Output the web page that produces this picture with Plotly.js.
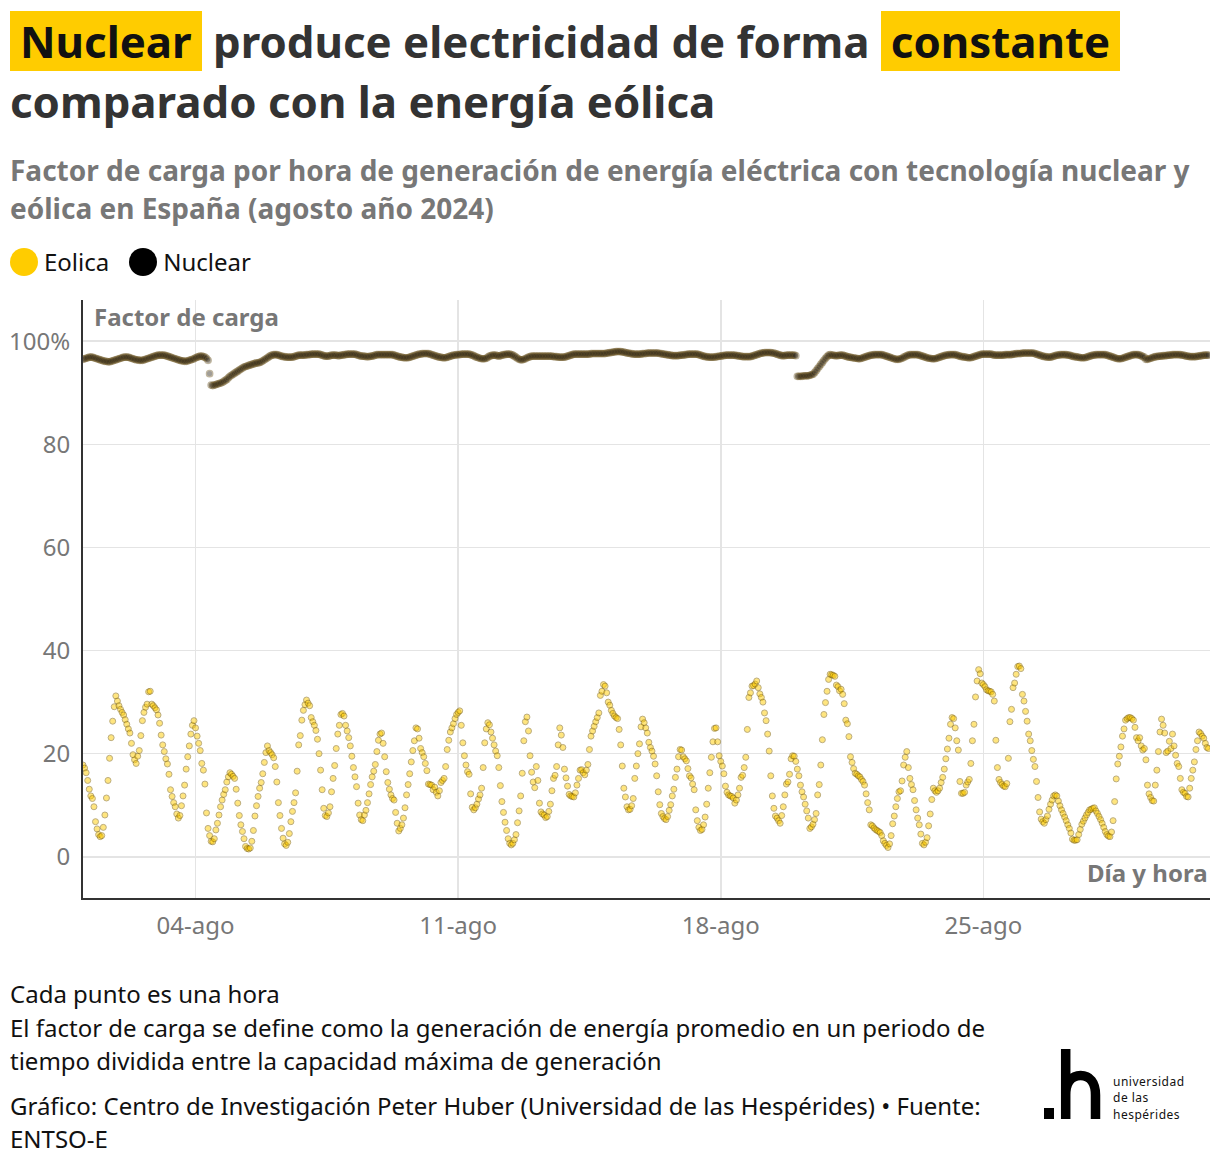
<!DOCTYPE html>
<html>
<head>
<meta charset="utf-8">
<script src="https://cdn.plot.ly/plotly-3.0.1.min.js"></script>
<style>
  body { margin: 0; background: #fff; font-family: "Noto Sans", sans-serif; }
  #wrap { position: relative; width: 1220px; height: 1168px; overflow: hidden; }
  #chart { position: absolute; left: 0; top: 0; width: 1220px; height: 1168px; }
  .ov { position: absolute; left: 10px; pointer-events: none; z-index: 5; }
  #title { top: 11px; font-size: 43.8px; font-weight: 700; color: #333; line-height: 60px; white-space: nowrap; }
  #title .hl { background: #ffcc00; color: #111; padding: 0 10px; }
  #subtitle { top: 151px; font-size: 28px; font-weight: 700; color: #777; line-height: 38px; white-space: nowrap; }
  #legend { top: 246px; font-size: 24px; color: #111; line-height: 32px; white-space: nowrap; display: flex; align-items: center; }
  #legend .dot { display: inline-block; width: 28px; height: 28px; border-radius: 50%; margin-right: 6px; }
  #legend .item { display: flex; align-items: center; margin-right: 20px; }
  #footer { top: 977px; font-size: 24px; color: #111; line-height: 33.5px; white-space: nowrap; }
  #footer p { margin: 0 0 11px 0; }
  #logo { position: absolute; left: 1030px; top: 1040px; width: 180px; height: 90px; z-index: 5; }
  #logotext { position: absolute; left: 1113px; top: 1074px; font-size: 12px; line-height: 16.4px; letter-spacing: 0.5px; color: #111; z-index: 5; white-space: nowrap; }
</style>
</head>
<body>
<div id="wrap">
  <div id="chart"></div>
  <div id="title" class="ov"><span class="hl">Nuclear</span> produce electricidad de forma <span class="hl">constante</span><br>comparado con la energía eólica</div>
  <div id="subtitle" class="ov">Factor de carga por hora de generación de energía eléctrica con tecnología nuclear y<br>eólica en España (agosto año 2024)</div>
  <div id="legend" class="ov">
    <span class="item"><span class="dot" style="background:#ffcc00"></span>Eolica</span>
    <span class="item"><span class="dot" style="background:#000"></span>Nuclear</span>
  </div>
  <div id="footer" class="ov">
    <p>Cada punto es una hora<br>El factor de carga se define como la generación de energía promedio en un periodo de<br>tiempo dividida entre la capacidad máxima de generación</p>
    <p>Gráfico: Centro de Investigación Peter Huber (Universidad de las Hespérides) • Fuente:<br>ENTSO-E</p>
  </div>
  <svg id="logo" viewBox="1030 1040 180 90" xmlns="http://www.w3.org/2000/svg">
    <rect x="1044" y="1108" width="10" height="11" fill="#000"/>
    <path d="M1065.7 1119 V1049 M1065.7 1095 C1065.7 1082 1072 1075.5 1080.6 1075.5 C1089.5 1075.5 1095.5 1082 1095.5 1095 V1119" fill="none" stroke="#000" stroke-width="9.5"/>
  </svg>
  <div id="logotext">universidad<br>de las<br>hespérides</div>
</div>
<script>
// ---- Data ----
const startDate = "2024-08-01T00:00:00Z";   // first hourly reading
const tickDates = ["2024-08-04", "2024-08-11", "2024-08-18", "2024-08-25"];
const tickLabels = ["04-ago", "11-ago", "18-ago", "25-ago"];
const yTickVals = [0, 20, 40, 60, 80, 100];
const yTickLabels = ["0", "20", "40", "60", "80", "100%"];
const seriesNames = ["Eolica", "Nuclear"];

// Eolica hourly load factor (%), one row per day (1 to 30 agosto) + 31 agosto 00:00
const eolica = [
17.8,17.2,16.3,14.8,13.1,11.8,11.3,9.7,6.8,5.4,4.3,3.9,4.1,5.7,8.1,11.4,14.8,19.1,23.1,26.3,29.1,31.2,30.2,29.3,
28.6,28.0,27.5,26.6,25.7,24.8,24.0,22.0,19.8,18.8,18.1,19.5,20.6,23.5,26.4,28.0,29.0,29.6,32.0,32.1,29.6,29.3,28.9,28.5,
27.5,25.9,23.6,21.7,20.4,19.0,18.0,16.0,13.0,11.7,10.5,9.7,8.3,7.5,8.0,9.9,11.8,13.9,17.0,19.4,21.5,23.8,25.5,26.4,
25.0,23.4,22.0,20.6,18.1,16.8,14.1,8.5,5.5,4.1,3.0,2.9,3.5,5.2,6.5,8.1,9.7,11.0,12.1,13.0,14.5,15.5,16.3,16.0,
15.6,15.2,13.1,10.4,8.0,6.2,4.9,3.5,2.0,1.6,1.5,1.7,3.0,5.1,7.9,9.9,11.7,13.3,14.4,16.1,18.3,20.2,21.5,20.6,
20.2,19.8,19.2,17.5,14.5,10.5,8.0,5.5,3.6,2.5,2.2,2.8,4.5,6.8,8.8,10.5,12.4,16.6,21.7,23.5,26.5,28.4,29.5,30.4,
29.8,29.3,27.0,26.2,25.5,24.5,22.8,20.0,16.8,13.0,9.4,8.0,7.8,8.5,9.7,12.6,15.2,17.7,21.0,23.8,25.5,27.6,27.8,27.3,
25.5,24.4,23.1,21.5,19.5,17.3,15.5,13.6,10.4,8.1,7.2,7.0,8.1,9.0,10.5,12.2,14.0,15.5,16.6,17.9,20.4,22.6,23.8,24.0,
22.0,19.4,16.5,14.4,13.1,12.0,11.3,11.0,8.6,6.5,5.0,5.5,6.2,7.5,9.5,12.0,14.0,16.1,18.4,20.6,22.5,25.0,24.8,23.0,
21.0,20.2,19.4,18.1,16.7,14.1,14.0,13.9,13.0,13.5,12.5,11.8,12.8,14.4,14.8,15.2,17.5,20.8,22.6,24.2,25.0,25.8,26.8,27.6,
28.0,28.3,25.5,22.1,19.6,17.8,16.5,16.0,12.2,9.6,9.1,9.5,10.2,11.2,12.0,13.3,17.3,22.1,24.8,26.0,25.6,24.2,23.0,21.7,
20.5,19.6,17.3,13.8,10.7,8.6,6.7,5.1,3.5,2.6,2.3,2.6,3.3,4.3,6.6,8.9,11.8,16.2,22.5,26.2,27.1,24.4,19.6,16.4,
14.5,13.4,17.5,14.8,10.4,8.7,8.3,8.1,7.6,7.8,8.8,10.2,12.8,15.2,15.8,17.5,21.7,25.0,23.6,21.2,17.0,15.3,13.7,12.1,
11.8,11.7,11.6,12.4,13.9,15.2,16.8,16.9,16.3,15.9,16.8,17.9,20.8,23.4,24.4,25.3,26.2,27.0,27.9,31.3,32.1,33.4,33.1,31.8,
30.0,29.4,28.4,27.8,27.3,27.0,26.8,24.7,21.7,17.6,13.3,11.6,9.7,9.1,9.2,9.9,11.3,15.2,17.6,20.0,21.9,25.2,26.7,26.0,
25.0,24.0,22.2,21.2,20.5,19.5,18.0,15.7,12.6,10.1,8.4,7.8,7.4,7.2,7.8,9.0,10.1,11.8,13.1,15.4,17.0,19.4,20.8,20.7,
19.4,19.0,18.6,17.1,15.7,15.3,14.1,13.0,9.1,7.0,5.7,5.1,5.3,6.2,7.7,10.2,13.3,16.3,19.3,22.3,24.9,25.0,22.3,19.6,
18.5,17.6,16.1,13.7,12.5,12.0,11.8,11.7,11.4,10.4,11.0,12.0,13.3,15.4,15.8,17.3,19.3,24.7,30.9,31.8,33.1,33.2,33.5,34.1,
32.8,31.6,30.9,30.0,27.9,26.4,23.8,20.5,15.7,11.8,9.4,7.9,7.5,7.0,6.5,8.0,9.7,12.0,14.1,14.5,16.0,19.0,19.6,19.5,
18.5,17.0,15.7,13.9,12.6,11.6,10.2,8.9,7.5,5.5,5.8,6.3,7.2,8.4,12.0,14.0,17.8,22.7,27.6,29.9,32.1,34.4,35.4,35.3,
35.2,35.0,33.3,33.0,32.2,32.5,31.5,29.7,26.5,25.8,23.3,19.4,18.3,17.1,16.2,16.0,15.7,15.5,15.0,14.6,13.9,12.2,10.5,9.1,
6.2,6.0,5.6,5.3,5.1,4.9,4.7,4.1,3.1,2.6,2.2,1.8,2.5,4.1,6.4,7.9,9.7,11.3,12.6,12.8,14.7,17.8,19.3,20.4,
17.3,15.2,14.0,13.0,10.9,9.1,7.5,6.2,4.4,2.6,2.3,2.8,3.7,6.0,8.3,11.1,13.3,12.8,12.5,12.8,13.3,14.4,15.4,17.0,
19.0,20.9,23.0,25.7,27.0,26.8,25.0,22.5,20.7,14.6,12.3,12.3,12.5,13.9,14.5,15.0,18.1,22.5,25.7,31.0,34.1,36.3,35.5,33.7,
33.4,33.0,32.4,32.2,32.1,32.0,31.5,30.2,22.6,17.3,15.0,14.4,14.0,13.7,13.6,14.2,19.1,26.2,28.6,32.8,33.7,35.4,36.9,37.0,
36.5,31.5,30.2,28.2,26.3,23.8,22.5,20.6,18.9,17.5,14.6,11.5,8.7,7.3,6.8,6.5,7.2,7.9,9.2,10.2,11.0,11.8,12.0,11.8,
10.8,9.9,9.1,8.4,7.7,7.0,6.2,5.5,4.6,3.4,3.2,3.2,3.3,4.3,5.3,6.3,6.9,7.5,8.1,8.6,9.1,9.2,9.4,9.5,
8.9,8.4,7.8,7.2,6.5,5.7,4.9,4.3,4.0,3.9,4.8,7.0,10.7,15.1,18.0,19.5,21.3,23.4,24.8,26.5,26.8,27.0,27.0,26.8,
26.5,25.1,23.1,22.5,23.1,21.5,20.7,21.0,18.8,13.9,12.2,11.5,10.9,10.8,13.9,16.8,20.4,24.2,26.7,25.5,24.0,20.2,20.5,22.4,
21.0,23.8,21.5,19.7,18.1,17.5,15.2,13.0,12.5,12.3,11.7,11.6,13.3,15.2,16.8,18.4,20.8,22.5,24.2,23.9,23.4,23.0,22.0,21.2,
21.0
];

// Nuclear hourly load factor (%), one row per day
const nuclear = [
96.5,96.6,96.7,96.8,96.9,96.9,96.9,96.8,96.7,96.6,96.5,96.4,96.3,96.2,96.1,96.1,96.0,96.0,96.1,96.2,96.3,96.4,96.5,96.6,
96.7,96.8,96.9,96.9,96.9,96.9,96.8,96.7,96.6,96.5,96.4,96.4,96.3,96.3,96.3,96.4,96.5,96.6,96.7,96.8,96.9,97.0,97.1,97.2,
97.3,97.3,97.3,97.3,97.3,97.2,97.1,97.0,96.9,96.8,96.7,96.6,96.5,96.4,96.3,96.2,96.2,96.1,96.1,96.2,96.3,96.4,96.5,96.6,
96.8,96.9,97.0,97.1,97.1,97.0,96.9,96.7,96.3,93.7,91.5,91.4,91.5,91.6,91.7,91.8,91.9,92.0,92.2,92.4,92.6,92.9,93.2,93.4,
93.6,93.8,94.0,94.2,94.4,94.6,94.8,95.0,95.1,95.2,95.3,95.4,95.5,95.6,95.7,95.8,95.8,95.9,96.0,96.2,96.4,96.6,96.8,97.0,
97.2,97.3,97.4,97.4,97.4,97.3,97.2,97.1,97.0,97.0,96.9,96.9,96.9,96.9,96.9,97.0,97.1,97.2,97.3,97.3,97.3,97.3,97.3,97.4,
97.4,97.4,97.5,97.5,97.5,97.5,97.5,97.5,97.4,97.3,97.2,97.1,97.1,97.1,97.2,97.3,97.3,97.3,97.3,97.2,97.2,97.3,97.3,97.4,
97.4,97.5,97.5,97.5,97.5,97.5,97.5,97.4,97.3,97.2,97.1,97.1,97.1,97.0,97.0,97.0,97.1,97.1,97.2,97.3,97.4,97.4,97.4,97.4,
97.4,97.4,97.4,97.4,97.4,97.4,97.4,97.3,97.2,97.1,97.0,96.9,96.9,96.8,96.8,96.8,96.8,96.9,97.0,97.1,97.2,97.3,97.4,97.5,
97.5,97.6,97.6,97.6,97.6,97.6,97.5,97.4,97.3,97.2,97.1,97.0,96.9,96.9,96.8,96.8,96.8,96.9,97.0,97.1,97.2,97.3,97.3,97.4,
97.4,97.4,97.5,97.5,97.5,97.5,97.5,97.5,97.4,97.3,97.2,97.0,96.9,96.8,96.7,96.6,96.6,96.6,96.7,96.9,97.1,97.2,97.3,97.3,
97.3,97.2,97.1,97.2,97.3,97.4,97.4,97.5,97.5,97.5,97.4,97.3,97.1,96.9,96.7,96.5,96.4,96.4,96.5,96.6,96.8,96.9,97.0,97.1,
97.1,97.1,97.1,97.1,97.1,97.1,97.1,97.1,97.1,97.1,97.1,97.1,97.1,97.0,97.0,97.0,96.9,96.9,96.9,96.9,96.9,97.0,97.1,97.2,
97.3,97.4,97.5,97.5,97.5,97.5,97.5,97.5,97.5,97.5,97.5,97.5,97.5,97.6,97.6,97.6,97.6,97.6,97.6,97.6,97.6,97.6,97.6,97.7,
97.7,97.8,97.8,97.9,97.9,98.0,98.0,98.0,98.0,97.9,97.9,97.8,97.7,97.7,97.6,97.6,97.5,97.5,97.5,97.5,97.5,97.5,97.6,97.6,
97.6,97.7,97.7,97.7,97.7,97.7,97.7,97.7,97.7,97.6,97.6,97.5,97.5,97.4,97.4,97.3,97.3,97.2,97.2,97.2,97.2,97.2,97.3,97.3,
97.3,97.4,97.4,97.5,97.5,97.5,97.5,97.5,97.5,97.5,97.4,97.3,97.2,97.1,97.0,97.0,96.9,96.9,96.9,96.9,96.9,97.0,97.0,97.1,
97.1,97.2,97.2,97.3,97.3,97.3,97.3,97.3,97.3,97.3,97.2,97.2,97.1,97.1,97.0,97.0,97.0,97.0,97.0,97.0,97.1,97.2,97.3,97.4,
97.5,97.6,97.7,97.7,97.8,97.8,97.8,97.8,97.8,97.7,97.7,97.6,97.5,97.4,97.3,97.2,97.2,97.2,97.3,97.3,97.3,97.3,97.3,97.3,
97.2,93.2,93.2,93.2,93.2,93.3,93.3,93.3,93.3,93.4,93.5,93.6,93.9,94.3,94.7,95.1,95.5,95.9,96.3,96.7,97.0,97.3,97.4,97.3,
97.3,97.2,97.2,97.2,97.3,97.3,97.3,97.2,97.1,97.0,96.9,96.9,96.8,96.8,96.7,96.7,96.6,96.6,96.7,96.8,96.9,97.0,97.1,97.2,
97.3,97.3,97.4,97.4,97.4,97.4,97.4,97.4,97.3,97.2,97.1,97.0,96.9,96.8,96.7,96.6,96.5,96.5,96.5,96.6,96.7,96.9,97.0,97.2,
97.3,97.4,97.4,97.4,97.4,97.4,97.4,97.3,97.2,97.1,97.0,96.9,96.8,96.7,96.7,96.6,96.6,96.6,96.7,96.8,96.9,97.0,97.1,97.2,
97.3,97.3,97.4,97.4,97.4,97.4,97.4,97.3,97.2,97.1,97.0,97.0,96.9,96.9,96.8,96.8,96.8,96.9,97.0,97.1,97.2,97.3,97.4,97.5,
97.5,97.5,97.5,97.5,97.5,97.5,97.4,97.3,97.3,97.3,97.3,97.3,97.3,97.3,97.4,97.4,97.4,97.4,97.4,97.5,97.5,97.6,97.6,97.6,
97.6,97.7,97.7,97.7,97.7,97.7,97.7,97.7,97.7,97.6,97.5,97.4,97.3,97.2,97.1,97.0,97.0,96.9,96.9,96.9,97.0,97.1,97.2,97.3,
97.3,97.4,97.4,97.4,97.4,97.4,97.3,97.3,97.2,97.1,97.0,97.0,96.9,96.9,96.8,96.8,96.8,96.8,96.9,97.0,97.1,97.2,97.3,97.3,
97.4,97.4,97.4,97.4,97.4,97.4,97.4,97.3,97.2,97.1,97.0,96.9,96.8,96.7,96.6,96.6,96.6,96.7,96.8,96.9,97.0,97.1,97.2,97.3,
97.4,97.4,97.4,97.4,97.3,97.2,97.0,96.9,96.5,96.5,96.6,96.7,96.8,96.9,97.0,97.0,97.1,97.1,97.1,97.2,97.2,97.2,97.3,97.3,
97.3,97.4,97.4,97.4,97.4,97.4,97.4,97.3,97.3,97.2,97.1,97.1,97.0,97.0,97.0,97.0,97.0,97.1,97.1,97.2,97.2,97.3,97.3,97.3,
97.3
];

// ---- Hourly timestamps for each reading ----
function hourStamp(i) {
  const d = new Date(Date.parse(startDate) + i * 3600 * 1000);
  const p = n => String(n).padStart(2, "0");
  return d.getUTCFullYear() + "-" + p(d.getUTCMonth() + 1) + "-" + p(d.getUTCDate()) + " " + p(d.getUTCHours()) + ":00";
}
const times = eolica.map((_, i) => hourStamp(i));

const traces = [
  {
    name: seriesNames[0], x: times, y: eolica, type: "scatter", mode: "markers",
    marker: { size: 6, color: "#ffcc00", opacity: 0.5, line: { color: "#7a5c00", width: 1 } },
    hoverinfo: "skip", showlegend: false
  },
  {
    name: seriesNames[1], x: times, y: nuclear, type: "scatter", mode: "markers",
    marker: { size: 6.5, color: "#20180a", opacity: 0.42, line: { color: "#6b5420", width: 1.2 } },
    hoverinfo: "skip", showlegend: false
  }
];

const gray = "#777";
const layout = {
  width: 1220, height: 1168,
  margin: { l: 83, r: 10, t: 300, b: 270 },
  paper_bgcolor: "#fff", plot_bgcolor: "#fff",
  font: { family: "Noto Sans, sans-serif", color: gray },
  showlegend: false,
  hovermode: false,
  xaxis: {
    type: "date",
    range: ["2024-08-01 00:00", "2024-08-31 01:00"],
    tickmode: "array", tickvals: tickDates, ticktext: tickLabels,
    showgrid: true, gridcolor: "#e4e4e4", gridwidth: 1.5,
    showline: true, linecolor: "#333", linewidth: 2,
    zeroline: false, ticks: "", ticklabelstandoff: 5,
    tickfont: { size: 24, color: gray }
  },
  yaxis: {
    range: [-8, 108],
    tickmode: "array", tickvals: yTickVals, ticktext: yTickLabels,
    showgrid: true, gridcolor: "#e4e4e4", gridwidth: 1.5,
    showline: true, linecolor: "#333", linewidth: 2,
    zeroline: false, ticks: "", ticklabelstandoff: 6,
    tickfont: { size: 24, color: gray }
  },
  annotations: [
    { text: "<b>Factor de carga</b>", xref: "paper", yref: "paper", x: 0, y: 1,
      xanchor: "left", yanchor: "top", xshift: 9, yshift: 2, showarrow: false,
      font: { size: 24, color: gray } },
    { text: "<b>Día y hora</b>", xref: "paper", yref: "paper", x: 1, y: 0,
      xanchor: "right", yanchor: "bottom", xshift: 0, yshift: 7, showarrow: false,
      font: { size: 24, color: gray } }
  ]
};

Plotly.newPlot("chart", traces, layout, { displayModeBar: false, staticPlot: true });
</script>
</body>
</html>
